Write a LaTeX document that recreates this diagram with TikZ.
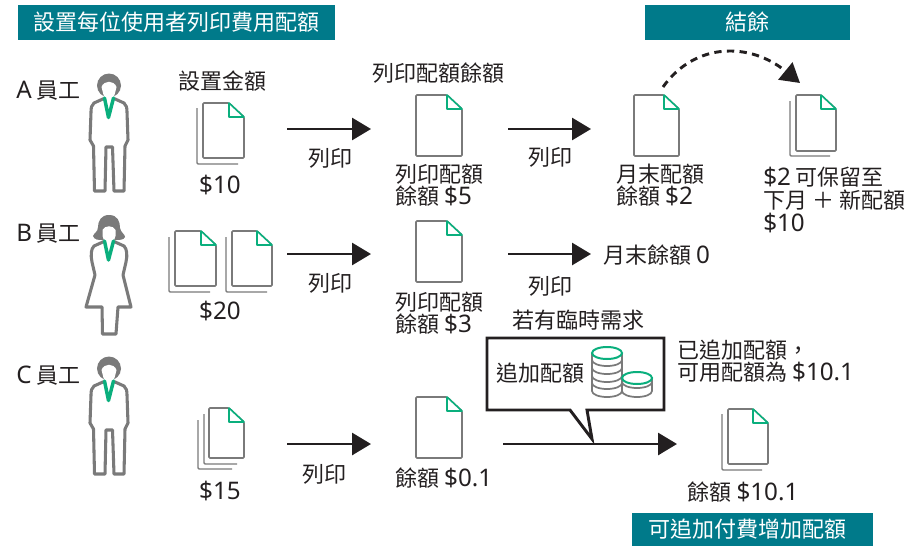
\documentclass[tikz,border=0pt]{standalone}
\usepackage{fontspec}
\setmainfont{Noto Sans CJK TC}
\newfontfamily\latfont[Scale=1.1]{Noto Sans}
\newcommand{\lat}[1]{{\latfont #1}}
\usetikzlibrary{arrows.meta}
\definecolor{bannerteal}{RGB}{0,122,138}
\definecolor{inkgray}{RGB}{122,122,122}
\definecolor{foldgreen}{RGB}{10,175,125}
\definecolor{inkblack}{RGB}{35,31,32}
\tikzset{
	lbl/.style={inkblack, inner sep=0pt, align=left, font=\fontsize{16.5}{16.5}\selectfont},
	lbltall/.style={lbl, font=\fontsize{16.5}{17.6}\selectfont},
	banner/.style={fill=bannerteal, text=white, inner sep=0pt, font=\fontsize{16.5}{16.5}\selectfont},
	flow/.style={draw=inkblack, line width=2.2pt, -{Triangle[length=14.25pt,width=16.5pt]}},
	bodyline/.style={draw=inkgray, line width=2.3pt, line join=round, fill=white},
	tie/.style={draw=foldgreen, line width=2.6pt, line join=round, line cap=round},
	pics/sheet/.style 2 args={code={
		\draw[draw=inkgray, line width=1.2pt, fill=white, rounded corners=0.8pt] (0,0) -- (#1-15,0) -- (#1,14) -- (#1,#2) -- (0,#2) -- cycle;
		\draw[draw=foldgreen, line width=1.2pt, fill=white, line join=round] (#1-15,0) -- (#1-15,14) -- (#1,14) -- cycle;
	}},
	pics/backsheet/.style 2 args={code={
		\draw[draw=inkgray, line width=1pt, rounded corners=0.8pt] (0,0) -- (0,#2) -- (#1,#2);
	}},
	pics/manfig/.style={code={
		\fill[inkgray] (109,85.5) circle (12);
		\fill[white] (101.5,87) .. controls (104,80) and (114,80) .. (116.5,87) -- (115,93) -- (113,100) -- (105,100) -- (103,93) -- cycle;
		\path[bodyline] (104,98.5) -- (94,103) .. controls (91.5,105) and (91,108) .. (91,112) -- (90,140) -- (93.5,146) -- (94.5,191) -- (105,191) -- (106,147) -- (112.5,147) -- (114,191) -- (124,191) -- (125,146) -- (128,140) -- (127,112) .. controls (127,108) and (126.5,105) .. (124,103) -- (114,98.5);
		\draw[tie] (104.5,98) -- (108.5,117.5) -- (113.5,98);
	}},
	pics/womanfig/.style={code={
		\fill[inkgray] (109,215) .. controls (118,215) and (120,222) .. (120,228) .. controls (121,233) and (125,234) .. (125,237) .. controls (124,240) and (119,240) .. (116,240) -- (102,240) .. controls (99,240) and (94,240) .. (93,236) .. controls (94,233) and (98,232) .. (98,227) .. controls (98,221) and (101,215) .. (109,215) -- cycle;
		\fill[white] (102.5,230) .. controls (105,225) and (113,225) .. (115.5,230) -- (115.5,236) -- (113,243) -- (105,243) -- (102.5,236) -- cycle;
		\path[bodyline] (104,241.5) -- (94,246) .. controls (91,249) and (90.5,255) .. (92,262) -- (95,275) -- (86,307) -- (102,307) -- (102.5,334) -- (116,334) -- (118,307) -- (131,307) -- (123,275) -- (126,262) .. controls (127.5,255) and (127,249) .. (124,246) -- (114,241.5);
		\draw[tie] (104.5,241) -- (108.5,260) -- (113.5,241);
	}},
	pics/coinstack/.style n args={3}{code={
		\draw[draw=inkgray, line width=1.3pt, fill=white] (-15,0) -- (-15,#2) arc[start angle=180, end angle=0, x radius=15, y radius=6] -- (15,0);
		\foreach \ypos in {#3} {
			\draw[draw=inkgray, line width=1.3pt] (-15,\ypos) arc[start angle=180, end angle=0, x radius=15, y radius=6];
		}
		\draw[draw=foldgreen, line width=1.5pt, fill=white] (0,0) ellipse (15 and 6);
	}}
}
\begin{document}
\begin{tikzpicture}[x=0.75pt, y=-0.75pt]
	\useasboundingbox (0,0) rectangle (923,546);
	\node[banner, minimum width=238pt, minimum height=26.25pt] (bannerset) at (176.5,22.5) {設置每位使用者列印費用配額};
	\node[banner, minimum width=153.75pt, minimum height=26.25pt] (bannerleft) at (747.5,22.5) {結餘};
	\node[banner, minimum width=180.75pt, minimum height=24.75pt] (banneradd) at (752.5,529.5) {可追加付費增加配額\hspace*{8pt}};
	\node[lbl, anchor=west] (empa) at (16,91) {\lat{A} 員工};
	\node[lbl, anchor=west] (empb) at (16,234) {\lat{B} 員工};
	\node[lbl, anchor=west] (empc) at (16,376) {\lat{C} 員工};
	\pic at (0,0) {manfig};
	\pic at (0,0) {womanfig};
	\pic at (0,283) {manfig};
	\pic at (197,108) {backsheet={41}{56}};
	\pic at (203,103) {sheet={41}{55}};
	\pic at (169,237) {backsheet={41}{55}};
	\pic at (175,231) {sheet={41}{55}};
	\pic at (226,237) {backsheet={41}{55}};
	\pic at (232,231) {sheet={40}{55}};
	\pic at (198,420) {backsheet={34}{49}};
	\pic at (204,414) {backsheet={33}{50}};
	\pic at (209,408) {sheet={35}{50}};
	\pic at (416,95) {sheet={46}{61}};
	\pic at (416,221) {sheet={46}{61}};
	\pic at (416,397) {sheet={46}{61}};
	\pic at (634,95) {sheet={45}{61}};
	\pic at (790,101) {backsheet={40}{55}};
	\pic at (796,95) {sheet={40}{56}};
	\pic at (722,414) {backsheet={40}{56}};
	\pic at (728,409) {sheet={40}{55}};
	\node[lbl] (seta) at (222,81) {設置金額};
	\node[lbl] (amta) at (220,185) {\lat{\$10}};
	\node[lbl] (amtb) at (220,311) {\lat{\$20}};
	\node[lbl] (amtc) at (220,491) {\lat{\$15}};
	\node[lbl] (remain) at (438,73) {列印配額餘額};
	\node[lbl] (printa) at (330,158) {列印};
	\node[lbl] (printb) at (550,157) {列印};
	\node[lbl] (printc) at (330,283) {列印};
	\node[lbl] (printd) at (550,286) {列印};
	\node[lbl] (printe) at (324,474) {列印};
	\node[lbl, anchor=west] (quotaa) at (395,185.5) {列印配額\\餘額 \lat{\$5}};
	\node[lbl, anchor=west] (monthend) at (616,185.5) {月末配額\\餘額 \lat{\$2}};
	\node[lbltall, anchor=west] (carry) at (763,200) {\lat{\$2} 可保留至\\下月 ＋ 新配額\\\lat{\$10}};
	\node[lbl, anchor=west] (zero) at (603,255) {月末餘額 \lat{0}};
	\node[lbl, anchor=west] (quotab) at (395,313) {列印配額\\餘額 \lat{\$3}};
	\node[lbl, anchor=west] (quotac) at (395,478) {餘額 \lat{\$0.1}};
	\node[lbl] (final) at (743,492) {餘額 \lat{\$10.1}};
	\node[lbl] (ifneed) at (578,320) {若有臨時需求};
	\node[lbl, anchor=west] (added) at (677,361) {已追加配額，\\可用配額為 \lat{\$10.1}};
	\coordinate (afrom) at (287,129);
	\coordinate (ato) at (371,129);
	\coordinate (bfrom) at (508,129);
	\coordinate (bto) at (591,129);
	\coordinate (cfrom) at (287,254);
	\coordinate (cto) at (371,254);
	\coordinate (dfrom) at (508,254);
	\coordinate (dto) at (591,254);
	\coordinate (efrom) at (287,444);
	\coordinate (eto) at (371,444);
	\coordinate (ffrom) at (503,444);
	\coordinate (fto) at (677,444);
	\coordinate (gfrom) at (663,87);
	\coordinate (gto) at (800,83);
	\draw[flow] (afrom) -- (ato);
	\draw[flow] (bfrom) -- (bto);
	\draw[flow] (cfrom) -- (cto);
	\draw[flow] (dfrom) -- (dto);
	\draw[flow] (efrom) -- (eto);
	\draw[flow] (ffrom) -- (fto);
	\draw[inkblack, line width=2.2pt, dash pattern=on 5.5pt off 4pt, -{Triangle[length=14.25pt,width=16.5pt]}] (gfrom) .. controls (695,42) and (750,42) .. (gto);
	\draw[draw=inkblack, line width=2.2pt, fill=white, line join=miter] (487,338) -- (664,338) -- (664,410) -- (587,410) -- (592,439) -- (570,410) -- (487,410) -- cycle;
	\node[lbl] (addquota) at (540,373) {追加配額};
	\pic at (607,353) {coinstack={15}{38}{7,15,23,30}};
	\pic at (637,378) {coinstack={15}{13}{4}};
\end{tikzpicture}
\end{document}
